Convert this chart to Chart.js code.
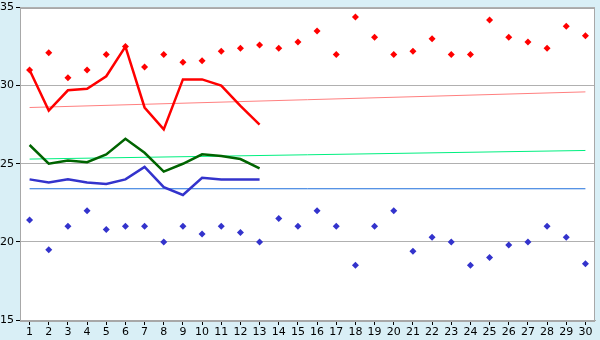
<!DOCTYPE html>
<html>
<head>
<meta charset="utf-8">
<script src="https://cdn.jsdelivr.net/npm/chart.js@4/dist/chart.umd.min.js"></script>
<style>
  html, body { margin: 0; padding: 0; background: #d9eff6; }
  #wrap { width: 600px; height: 340px; }
</style>
</head>
<body>
<div id="wrap"><canvas id="grafico" width="600" height="340"></canvas></div>
<script>
// --- DADOS ---
const dias = ['1','2','3','4','5','6','7','8','9','10','11','12','13','14','15',
              '16','17','18','19','20','21','22','23','24','25','26','27','28','29','30'];

// pontos soltos (losangos)
const maximos = [31.0, 32.1, 30.5, 31.0, 32.0, 32.5, 31.2, 32.0, 31.5, 31.6,
                 32.2, 32.4, 32.6, 32.4, 32.8, 33.5, 32.0, 34.4, 33.1, 32.0,
                 32.2, 33.0, 32.0, 32.0, 34.2, 33.1, 32.8, 32.4, 33.8, 33.2];
const minimos = [21.4, 19.5, 21.0, 22.0, 20.8, 21.0, 21.0, 20.0, 21.0, 20.5,
                 21.0, 20.6, 20.0, 21.5, 21.0, 22.0, 21.0, 18.5, 21.0, 22.0,
                 19.4, 20.3, 20.0, 18.5, 19.0, 19.8, 20.0, 21.0, 20.3, 18.6];

// linhas grossas (só os primeiros 13 dias)
const linhaVermelha = [31.0, 28.4, 29.7, 29.8, 30.6, 32.5, 28.6, 27.2, 30.4, 30.4, 30.0, 28.7, 27.5];
const linhaVerde    = [26.2, 25.0, 25.2, 25.1, 25.6, 26.6, 25.7, 24.5, 25.0, 25.6, 25.5, 25.3, 24.7];
const linhaAzul     = [24.0, 23.8, 24.0, 23.8, 23.7, 24.0, 24.8, 23.5, 23.0, 24.1, 24.0, 24.0, 24.0];

// linhas finas (início e fim)
const tendVermelha = [28.6, 29.6];
const tendVerde    = [25.3, 25.85];
const mediaAzul    = [23.4, 23.4];

const yTicks = [15, 20, 25, 30, 35];

// pontas das linhas finas
function pontas(vals) {
    return [{ x: dias[0], y: vals[0] }, { x: dias[dias.length - 1], y: vals[1] }];
}

// fundo branco só na área do gráfico + moldura
const fundoPlot = {
    id: 'fundoPlot',
    beforeDraw(chart) {
        const { ctx, chartArea: a } = chart;
        ctx.save();
        ctx.fillStyle = '#ffffff';
        ctx.fillRect(a.left, a.top, a.right - a.left, a.bottom - a.top);
        ctx.restore();
    },
    afterDatasetsDraw(chart) {
        const { ctx, chartArea: a } = chart;
        ctx.save();
        ctx.strokeStyle = '#a8a8a8';
        ctx.lineWidth = 1;
        ctx.strokeRect(Math.round(a.left) + 0.5, Math.round(a.top) + 0.5,
                       Math.round(a.right - a.left) - 1, Math.round(a.bottom - a.top));
        ctx.restore();
    }
};

const fonte = { family: 'DejaVu Sans', size: 11, lineHeight: 1 };

new Chart(document.getElementById('grafico'), {
    type: 'line',
    data: {
        labels: dias,
        datasets: [
            { data: pontas(mediaAzul), borderColor: '#1e6fdc', borderWidth: 1, pointRadius: 0, order: 5 },
            { data: pontas(tendVerde), borderColor: '#00f080', borderWidth: 1, pointRadius: 0, order: 5 },
            { data: pontas(tendVermelha), borderColor: '#ff8080', borderWidth: 1, pointRadius: 0, order: 5 },
            { data: linhaAzul, borderColor: '#3333cc', borderWidth: 2.5, pointRadius: 0, order: 3 },
            { data: linhaVerde, borderColor: '#006400', borderWidth: 2.5, pointRadius: 0, order: 3 },
            { data: linhaVermelha, borderColor: '#ff0000', borderWidth: 2.5, pointRadius: 0, order: 3 },
            { data: minimos, showLine: false, pointStyle: 'rectRot', pointRadius: 3.5,
              backgroundColor: '#3333cc', borderColor: '#3333cc', borderWidth: 0, order: 1 },
            { data: maximos, showLine: false, pointStyle: 'rectRot', pointRadius: 3.5,
              backgroundColor: '#ff0000', borderColor: '#ff0000', borderWidth: 0, order: 1 }
        ]
    },
    options: {
        responsive: false,
        animation: false,
        layout: { padding: { top: 5, right: 5, left: 0, bottom: 0 } },
        plugins: { legend: { display: false }, tooltip: { enabled: false } },
        scales: {
            x: {
                offset: true,
                grid: { drawOnChartArea: false, tickLength: 5, tickColor: '#000000', offset: false },
                border: { color: '#a8a8a8' },
                ticks: { color: '#000000', font: fonte, padding: 2, maxRotation: 0, autoSkip: false },
                afterFit(scale) { scale.height = 20; }
            },
            y: {
                min: 15, max: 35,
                afterBuildTicks(scale) { scale.ticks = yTicks.map(v => ({ value: v })); },
                grid: { color: '#b0b0b0', tickLength: 4, tickColor: '#000000' },
                border: { color: '#a8a8a8' },
                ticks: { color: '#000000', font: fonte, padding: 2 },
                afterFit(scale) { scale.width = 20; }
            }
        }
    },
    plugins: [fundoPlot]
});
</script>
</body>
</html>
